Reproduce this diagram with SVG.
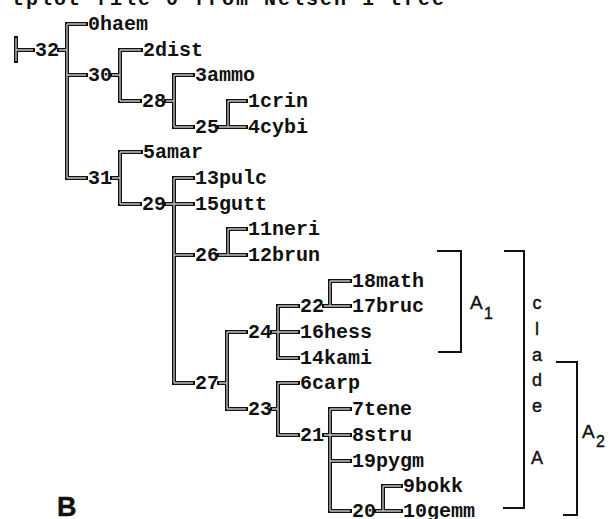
<svg xmlns="http://www.w3.org/2000/svg" xmlns:xlink="http://www.w3.org/1999/xlink" width="612" height="519" viewBox="0 0 612 519">
  <style>
    .mono { font-family: "Liberation Mono", "DejaVu Sans Mono", monospace; font-weight: bold; font-size: 20px; fill: #111; }
    .sans { font-family: "Liberation Sans", Arial, sans-serif; fill: #111; stroke: #111; stroke-width: 0.4; }
    .edge-out { fill: none; stroke: #111; stroke-width: 4; stroke-linecap: square; }
    .edge-in { fill: none; stroke: #c4c4c4; stroke-width: 1.3; stroke-linecap: butt; }
    .bracket { fill: none; stroke: #111; stroke-width: 2; }
  </style>
  <defs>
    <!-- all tree branches as one path, stroked twice for the double-line look -->
    <path id="branches" d="
      M16,38 V61 M16,50 H33
      M59,50 H67 M67,24 V178 M67,24 H86 M67,75 H86 M67,178 H86
      M112,75 H120 M120,50 V101 M120,50 H141 M120,101 H140
      M166,101 H174 M174,75 V127 M174,75 H193 M174,127 H193
      M219,127 H246 M228,101 V127 M228,101 H246
      M112,178 H120 M120,152 V204 M120,152 H141 M120,204 H140
      M166,204 H193 M174,178 V383 M174,178 H193 M174,255 H193 M174,383 H193
      M219,255 H246 M228,229 V255 M228,229 H246
      M219,383 H227 M227,332 V409 M227,332 H246 M227,409 H246
      M272,332 H298 M278,306 V358 M278,306 H298 M278,358 H298
      M324,306 H350 M330,281 V306 M330,281 H350
      M272,409 H278 M278,383 V435 M278,383 H298 M278,435 H298
      M324,435 H350 M330,409 V511 M330,409 H350 M330,461 H350 M330,511 H350
      M376,511 H401 M383,486 V511 M383,486 H401"/>
  </defs>

  <!-- heading line -->
  <text class="mono" x="12" y="5" letter-spacing="2">tplot file 0 from Nelsen 1 tree</text>

  <!-- connectors -->
  <g id="connectors">
    <use xlink:href="#branches" class="edge-out"/>
    <use xlink:href="#branches" class="edge-in"/>
  </g>

  <!-- internal nodes -->
  <g id="n32"><text class="mono" x="35" y="56">32</text></g>
  <g id="n30"><text class="mono" x="88" y="81">30</text></g>
  <g id="n28"><text class="mono" x="142" y="107">28</text></g>
  <g id="n25"><text class="mono" x="195" y="133">25</text></g>
  <g id="n31"><text class="mono" x="88" y="184">31</text></g>
  <g id="n29"><text class="mono" x="142" y="210">29</text></g>
  <g id="n26"><text class="mono" x="195" y="261">26</text></g>
  <g id="n27"><text class="mono" x="195" y="389">27</text></g>
  <g id="n24"><text class="mono" x="248" y="338">24</text></g>
  <g id="n22"><text class="mono" x="300" y="312">22</text></g>
  <g id="n23"><text class="mono" x="248" y="415">23</text></g>
  <g id="n21"><text class="mono" x="300" y="441">21</text></g>
  <g id="n20"><text class="mono" x="352" y="517">20</text></g>

  <!-- terminals -->
  <g id="t0haem"><text class="mono" x="88" y="30">0haem</text></g>
  <g id="t2dist"><text class="mono" x="143" y="56">2dist</text></g>
  <g id="t3ammo"><text class="mono" x="195" y="81">3ammo</text></g>
  <g id="t1crin"><text class="mono" x="248" y="107">1crin</text></g>
  <g id="t4cybi"><text class="mono" x="248" y="133">4cybi</text></g>
  <g id="t5amar"><text class="mono" x="143" y="158">5amar</text></g>
  <g id="t13pulc"><text class="mono" x="195" y="184">13pulc</text></g>
  <g id="t15gutt"><text class="mono" x="195" y="210">15gutt</text></g>
  <g id="t11neri"><text class="mono" x="248" y="235">11neri</text></g>
  <g id="t12brun"><text class="mono" x="248" y="261">12brun</text></g>
  <g id="t18math"><text class="mono" x="352" y="287">18math</text></g>
  <g id="t17bruc"><text class="mono" x="352" y="312">17bruc</text></g>
  <g id="t16hess"><text class="mono" x="300" y="338">16hess</text></g>
  <g id="t14kami"><text class="mono" x="300" y="364">14kami</text></g>
  <g id="t6carp"><text class="mono" x="300" y="389">6carp</text></g>
  <g id="t7tene"><text class="mono" x="352" y="415">7tene</text></g>
  <g id="t8stru"><text class="mono" x="352" y="441">8stru</text></g>
  <g id="t19pygm"><text class="mono" x="352" y="467">19pygm</text></g>
  <g id="t9bokk"><text class="mono" x="403" y="492">9bokk</text></g>
  <g id="t10gemm"><text class="mono" x="403" y="517">10gemm</text></g>

  <!-- clade brackets -->
  <g id="cladeA1">
    <path class="bracket" d="M437,251 H461 V352 H438"/>
    <text class="sans" x="470" y="309" font-size="19">A</text>
    <text class="sans" x="484" y="319" font-size="16">1</text>
  </g>
  <g id="cladeA">
    <path class="bracket" d="M504,251 H524 V508 H503"/>
    <g class="sans" font-size="18" text-anchor="middle">
      <text x="537" y="309">c</text>
      <text x="537" y="335">l</text>
      <text x="537" y="361">a</text>
      <text x="537" y="386">d</text>
      <text x="537" y="412">e</text>
      <text x="537" y="464">A</text>
    </g>
  </g>
  <g id="cladeA2">
    <path class="bracket" d="M556,362 H577 V515 H563"/>
    <text class="sans" x="582" y="438" font-size="19">A</text>
    <text class="sans" x="596" y="447" font-size="16">2</text>
  </g>

  <!-- panel letter -->
  <text class="sans" x="57" y="516" font-size="27" font-weight="bold">B</text>
</svg>
